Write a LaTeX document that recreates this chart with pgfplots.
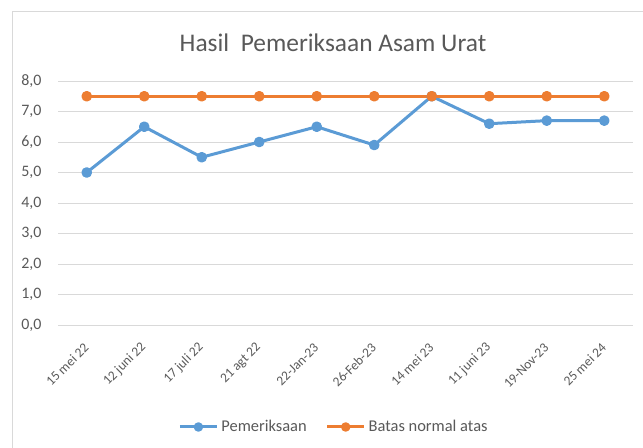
\documentclass[border=0pt]{standalone}
\usepackage{pgfplots}
\pgfplotsset{compat=1.18}
\usepackage{fontspec}
\setmainfont{Carlito}
\definecolor{blueS}{HTML}{5B9BD5}
\definecolor{orangeS}{HTML}{ED7D31}
\definecolor{gridc}{HTML}{D9D9D9}
\definecolor{txt}{HTML}{595959}
\begin{document}
\begin{tikzpicture}[x=1bp,y=1bp]
\path[use as bounding box] (0,0) rectangle (643,448);
\draw[gridc, line width=1bp] (643,436) -- (12,436) -- (12,0);
\node[txt, font=\fontsize{25.5}{30}\selectfont] at (333,405) {Hasil\ \ Pemeriksaan Asam Urat};
\begin{axis}[
  at={(58bp,123bp)}, anchor=south west,
  scale only axis, width=575bp, height=244bp,
  xmin=-0.5, xmax=9.5, ymin=0, ymax=8,
  ytick={0,1,...,8},
  xtick={0,...,9},
  xticklabels={15 mei 22,12 juni 22,17 juli 22,21 agt 22,22-Jan-23,26-Feb-23,14 mei 23,11 juni 23,19-Nov-23,25 mei 24},
  axis line style={draw=none},
  major tick length=0pt,
  ymajorgrids, grid style={gridc, line width=0.75bp},
  tick label style={txt},
  yticklabel style={font=\fontsize{16}{19}\selectfont, /pgf/number format/fixed, /pgf/number format/fixed zerofill, /pgf/number format/precision=1, /pgf/number format/use comma, /pgf/number format/assume math mode=true, xshift=-13bp},
  xticklabel style={font=\fontsize{13.5}{16}\selectfont, xshift=2bp, yshift=-18bp, rotate=45, anchor=east},
  legend columns=2,
  legend style={at={(0.48,-0.418)}, anchor=center, draw=none, fill=none, font=\fontsize{16.5}{19}\selectfont, text=txt,
    /tikz/every odd column/.append style={column sep=1bp},
    /tikz/every even column/.append style={column sep=17bp}},
  legend image code/.code={\draw[#1, mark=none] (0bp,0bp) -- (37bp,0bp); \draw[#1, mark size=3.2bp] plot coordinates {(18.5bp,0bp)};},
]
\addplot[blueS, line width=3bp, mark=*, mark size=3.8bp, line join=round] coordinates {
(0,5.0) (1,6.5) (2,5.5) (3,6.0) (4,6.5) (5,5.9) (6,7.5) (7,6.6) (8,6.7) (9,6.7)};
\addlegendentry{Pemeriksaan}
\addplot[orangeS, line width=3bp, mark=*, mark size=3.8bp, line join=round] coordinates {
(0,7.5) (1,7.5) (2,7.5) (3,7.5) (4,7.5) (5,7.5) (6,7.5) (7,7.5) (8,7.5) (9,7.5)};
\addlegendentry{Batas normal atas}
\end{axis}
\end{tikzpicture}
\end{document}
